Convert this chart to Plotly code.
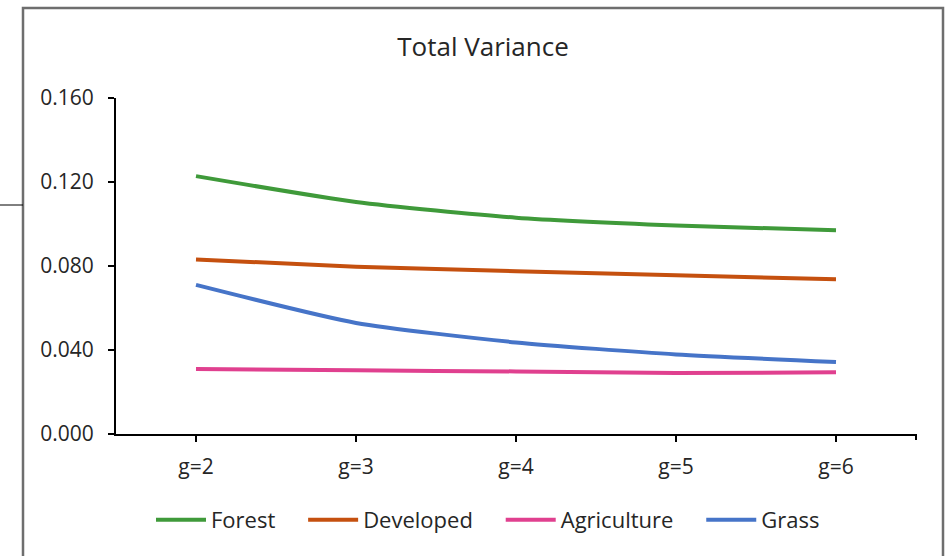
import plotly.graph_objects as go

# Category labels and series values
groups = ["g=2", "g=3", "g=4", "g=5", "g=6"]
forest = [0.1228, 0.1105, 0.1030, 0.0993, 0.0970]
developed = [0.0831, 0.0797, 0.0775, 0.0756, 0.0737]
agriculture = [0.0309, 0.0303, 0.0298, 0.0290, 0.0294]
grass = [0.0710, 0.0529, 0.0436, 0.0379, 0.0343]

y_ticks = [0.0, 0.04, 0.08, 0.12, 0.16]

series = [
    ("Forest", forest, "#3f9a3a"),
    ("Developed", developed, "#c5500f"),
    ("Agriculture", agriculture, "#e0408f"),
    ("Grass", grass, "#4674c8"),
]

FONT = "Open Sans, Liberation Sans, sans-serif"
TXT = "#262626"
PAD = "\u00a0" * 4  # spacing after each legend entry

fig = go.Figure()
for i, (name, vals, color) in enumerate(series):
    label = name + (PAD if i < len(series) - 1 else "")
    fig.add_trace(go.Scatter(
        x=groups, y=vals, name=label, mode="lines",
        line=dict(color=color, width=4, shape="spline", smoothing=0.6),
    ))

# plot area in pixels
L, R, T, B = 116, 916, 98, 434
W, H = 950, 556

def px(x):
    return (x - L) / (R - L)

def py(y):
    return (B - y) / (B - T)

shapes = [
    # outer chart frame (open at the bottom)
    dict(type="path", xref="paper", yref="paper",
         path=f"M {px(23)} {py(560)} L {px(23)} {py(8)} L {px(943)} {py(8)} L {px(943)} {py(560)}",
         line=dict(color="#6e6e6e", width=2.5)),
    # short connector line at left
    dict(type="line", xref="paper", yref="paper",
         x0=px(0), x1=px(23), y0=py(205), y1=py(205),
         line=dict(color="#000000", width=1)),
    # end tick at right of x axis
    dict(type="line", xref="paper", yref="paper",
         x0=1, x1=1, y0=0, y1=py(440),
         line=dict(color="#000000", width=2)),
]

fig.update_layout(
    width=W, height=H,
    margin=dict(l=L, r=W - R, t=T, b=H - B),
    paper_bgcolor="white", plot_bgcolor="white",
    title=dict(text="Total Variance", x=483 / W, xanchor="center",
               y=1 - 47 / H, yanchor="middle",
               font=dict(family=FONT, size=26, color=TXT)),
    font=dict(family=FONT, size=21, color=TXT),
    xaxis=dict(type="category", range=[-0.5, 4.5], showline=True,
               linecolor="#000000", linewidth=2, ticks="outside",
               ticklen=6, tickwidth=2, tickcolor="#000000",
               showgrid=False, zeroline=False, ticklabelstandoff=7,
               tickfont=dict(family=FONT, size=21, color=TXT)),
    yaxis=dict(range=[0, 0.16], tickvals=y_ticks, tickformat=".3f",
               showline=True, linecolor="#000000", linewidth=2,
               ticks="outside", ticklen=6, tickwidth=2, tickcolor="#000000",
               showgrid=False, zeroline=False, ticklabelstandoff=10,
               tickfont=dict(family=FONT, size=21, color=TXT)),
    legend=dict(orientation="h", x=px(488), xanchor="center",
                y=py(520), yanchor="middle",
                font=dict(family=FONT, size=22, color=TXT),
                itemwidth=50, tracegroupgap=0),
    shapes=shapes,
    showlegend=True,
)

fig.write_html("out.html")
